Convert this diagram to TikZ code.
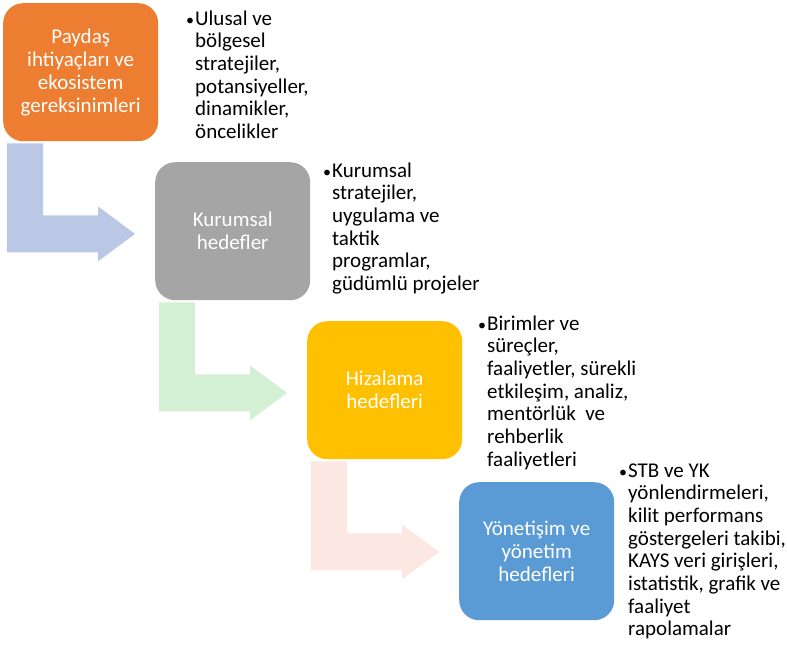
\documentclass[tikz,border=0pt]{standalone}
\usepackage{fontspec}
\setmainfont{Carlito}
\usetikzlibrary{calc}
\definecolor{corange}{HTML}{ED7D31}
\definecolor{cgray}{HTML}{A5A5A5}
\definecolor{cyellow}{HTML}{FFC000}
\definecolor{cblue}{HTML}{5B9BD5}
\definecolor{arrA}{HTML}{BAC8E6}
\definecolor{arrB}{HTML}{D4F0D4}
\definecolor{arrC}{HTML}{FBE8E2}
\newcommand{\bul}{\llap{{\fontsize{16}{16}\selectfont •}\hspace{1pt}}}
\begin{document}
\begin{tikzpicture}[x=1pt,y=-1pt,
  box/.style={rounded corners=20pt, minimum width=155pt, minimum height=138pt,
    inner sep=0pt, text=white, align=flush center, anchor=north west,
    font=\fontsize{21}{23}\selectfont},
  note/.style={anchor=base west, text width=175pt, align=flush left, inner sep=0pt,
    font=\fontsize{21}{22.7}\selectfont},
  bentarrow/.pic={
    \path[pic actions] (4,2) -- (40,2) -- (40,74) -- (95,74) -- (95,65)
      -- (132,92.5) -- (95,120) -- (95,111) -- (4,111) -- cycle;
  }
]
\useasboundingbox (0,0) rectangle (787,646);

\node[box, fill=corange] (b1) at (3,3) {Paydaş\\ihtiyaçları ve\\ekosistem\\gereksinimleri};
\node[box, fill=cgray] (b2) at (155,162) {Kurumsal\\hedefler};
\node[box, fill=cyellow] (b3) at (307,321) {Hizalama\\hedefleri};
\node[box, fill=cblue] (b4) at (459,482) {Yönetişim ve\\yönetim\\hedefleri};

\pic[fill=arrA] at (b1.south west) {bentarrow};
\pic[fill=arrB] at (b2.south west) {bentarrow};
\pic[fill=arrC] at (b3.south west) {bentarrow};

\node[note] (t1) at (195,25) {\bul Ulusal ve\\bölgesel\\stratejiler,\\potansiyeller,\\dinamikler,\\öncelikler};
\node[note] (t2) at (332,177) {\bul Kurumsal\\stratejiler,\\uygulama ve\\taktik\\programlar,\\güdümlü projeler};
\node[note] (t3) at (487,330) {\bul Birimler ve\\süreçler,\\faaliyetler, sürekli\\etkileşim, analiz,\\mentörlük\ \ ve\\rehberlik\\faaliyetleri};
\node[note] (t4) at (628,477) {\bul STB ve YK\\yönlendirmeleri,\\kilit performans\\göstergeleri takibi,\\KAYS veri girişleri,\\istatistik, grafik ve\\faaliyet\\rapolamalar};
\end{tikzpicture}
\end{document}
